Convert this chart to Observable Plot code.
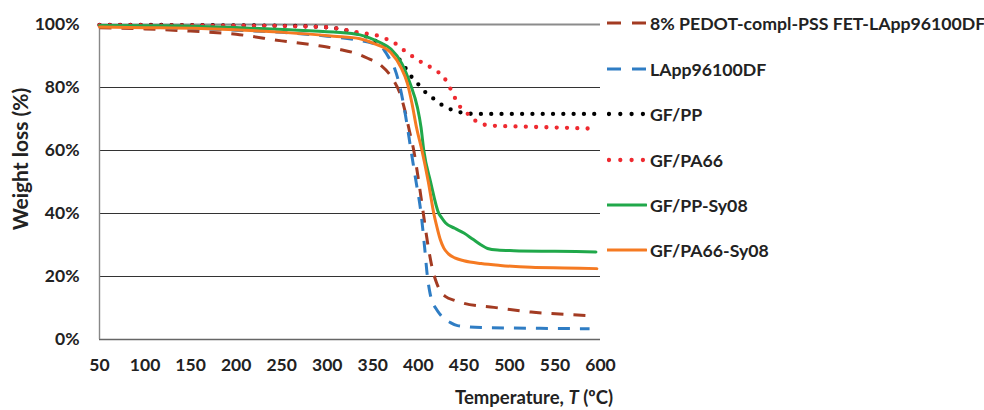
<!DOCTYPE html>
<html><head><meta charset="utf-8">
<script src="https://cdn.jsdelivr.net/npm/d3@7"></script>
<script src="https://cdn.jsdelivr.net/npm/@observablehq/plot@0.6"></script>
<style>
body{margin:0;background:#fff;}
#wrap{position:relative;width:984px;height:410px;font-family:Lato,sans-serif;}
#legend{position:absolute;left:607px;top:0;}
.item{position:absolute;left:0;height:24px;display:flex;align-items:center;white-space:nowrap;font-weight:700;font-size:17.7px;color:#222;}
.item svg{margin-right:3px;}
</style></head><body><div id="wrap"><div id="legend"></div></div>
<script>
// ---- data ----
const seriesNames = ["8% PEDOT-compl-PSS FET-LApp96100DF","LApp96100DF","GF/PP","GF/PA66","GF/PP-Sy08","GF/PA66-Sy08"];
const seriesColors = ["#A33B22","#2F7DC4","#000000","#EE2A30","#20A84A","#F57A22"];
const xTicks = [50,100,150,200,250,300,350,400,450,500,550,600];
const yTicks = [0,20,40,60,80,100];

const pedotT = [50,100,150,200,250,290,315,333,345,359,373,380,385,390,395,400,405,410,415,420,425,430,440,450,483,524,560,590];
const pedotW = [99,98.6,97.9,96.9,94.8,93.3,92,90.7,89.2,87,82.2,78,73,66.5,60,51,41,31,23,18,15,13.6,12.4,11.5,10.2,8.7,8,7.5];

const lappT = [50,100,150,200,250,300,330,350,359,367,374,380,386,392,397,403,407,410,413,416,419,423,427,435,443,469,520,588];
const lappW = [99.4,99.1,98.7,98.2,97.5,96.3,95.2,94,93,89.8,86,80,71,60,51,40,29,20,14.5,11.5,10,8.3,7,5.4,4.4,3.8,3.6,3.4];

const gfppT = [50,150,250,300,318,330,340,351,362,373,383,390,398,406,414,423,432,441,453,463,520,594];
const gfppW = [99.9,99.8,99.6,99.1,98.3,97.4,96.5,95.1,93.3,90.7,87.5,84.3,81.7,79,77.1,75,73.5,72.5,71.8,71.6,71.6,71.6];

const gfpaT = [50,150,250,300,320,340,351,363,373,382,392,400,410,419,428,433,438,443,452,460,469,480,500,550,594];
const gfpaW = [99.8,99.7,99.5,99.1,98.3,97.2,96.8,95.6,94.3,92.3,90.2,88.6,87,85.4,83.3,80.8,78.1,75,72.3,70,68.5,67.9,67.7,67.3,66.9];

const gfppSyT = [50,100,161,194,252,307,336,351,360,370,382,391,399,403,406,413.5,422.5,426,430,440,450,460,469,476,487,505,550,595];
const gfppSyW = [99.7,99.6,99.4,99.1,98.4,97.6,96.7,95.2,94,92.2,87.6,81.3,73.7,67.3,60,50,40,38.5,37,35.3,33.8,31.8,30,28.9,28.4,28.2,28,27.8];

const gfpaSyT = [50,100,161,252,307,336,351,370,381,388,393,398,404,411,417,420,424,428,433,440,450,469,490,524,560,596];
const gfpaSyW = [99.2,99,98.7,97.5,96.3,95.5,94,91,86.3,81.3,75,67.3,60,50,40,36.2,31.8,29,27.2,25.9,25,24.1,23.5,22.9,22.7,22.5];

const seriesT = [pedotT,lappT,gfppT,gfpaT,gfppSyT,gfpaSyT];
const seriesW = [pedotW,lappW,gfppW,gfpaW,gfppSyW,gfpaSyW];

// ---- styles ----
const styles = [
  {strokeWidth:3, strokeDasharray:"12 10", strokeLinecap:"butt"},
  {strokeWidth:3, strokeDasharray:"12 10", strokeLinecap:"butt"},
  {strokeWidth:4.3, strokeDasharray:"0 10.3", strokeLinecap:"round"},
  {strokeWidth:4.3, strokeDasharray:"0 10.3", strokeLinecap:"round"},
  {strokeWidth:3, strokeLinecap:"round"},
  {strokeWidth:3, strokeLinecap:"round"}
];

const tables = seriesNames.map((n,i)=>seriesT[i].map((t,j)=>({name:n,T:t,W:seriesW[i][j]})));

const chart = Plot.plot({
  width: 984, height: 410,
  marginLeft: 99, marginRight: 384, marginTop: 24, marginBottom: 71,
  style: {fontFamily: "Lato, sans-serif", fontWeight: 700, fontSize: "17.5px", color: "#222", background: "#fff"},
  x: {domain:[50,600], ticks: xTicks, tickSize: 0, tickPadding: 19, label: null},
  y: {domain:[0,100], ticks: yTicks, tickSize: 0, tickPadding: 20, tickFormat: d => d + "%", label: null},
  marks: [
    Plot.ruleY([20,40,60,80], {stroke:"#333", strokeWidth:1.2}),
    Plot.ruleY([100], {stroke:"#8c8c8c", strokeWidth:2.2}),
    Plot.ruleY([0], {stroke:"#666", strokeWidth:1.4}),
    Plot.ruleX([50], {stroke:"#888", strokeWidth:1.4}),
    ...tables.map((tb,i)=>Plot.line(tb, {x:"T", y:"W", stroke: seriesColors[i], curve:"monotone-x", ...styles[i]}))
  ]
});
document.getElementById("wrap").prepend(chart);

const svg = d3.select(chart);
svg.append("text")
  .attr("transform","translate(28,159) rotate(-90)")
  .attr("text-anchor","middle")
  .attr("font-size","21px").attr("font-weight",700).attr("fill","#222")
  .text("Weight loss (%)");
const xt = svg.append("text")
  .attr("x",613).attr("y",404)
  .attr("text-anchor","end")
  .attr("font-size","18.5px").attr("font-weight",700).attr("fill","#222");
xt.append("tspan").text("Temperature, ");
xt.append("tspan").attr("font-style","italic").text("T");
xt.append("tspan").text(" (ºC)");

// ---- legend ----
const rowCenters = [23,69,114,160,205,250];
const leg = d3.select("#legend");
seriesNames.forEach((n,i)=>{
  const it = leg.append("div").attr("class","item").style("top",(rowCenters[i]-12)+"px");
  const s = it.append("svg").attr("width",40).attr("height",12);
  const st = styles[i];
  const ln = s.append("line").attr("x1", i<2?0:(i<4?2:0)).attr("x2", i<2?39:(i<4?38:39)).attr("y1",6).attr("y2",6)
    .attr("stroke",seriesColors[i]).attr("stroke-width",st.strokeWidth).attr("stroke-linecap",st.strokeLinecap);
  if (i<2) ln.attr("stroke-dasharray","14 11");
  else if (i<4) ln.attr("stroke-dasharray","0 11.3");
  it.append("span").text(n);
});
</script>
</body></html>
